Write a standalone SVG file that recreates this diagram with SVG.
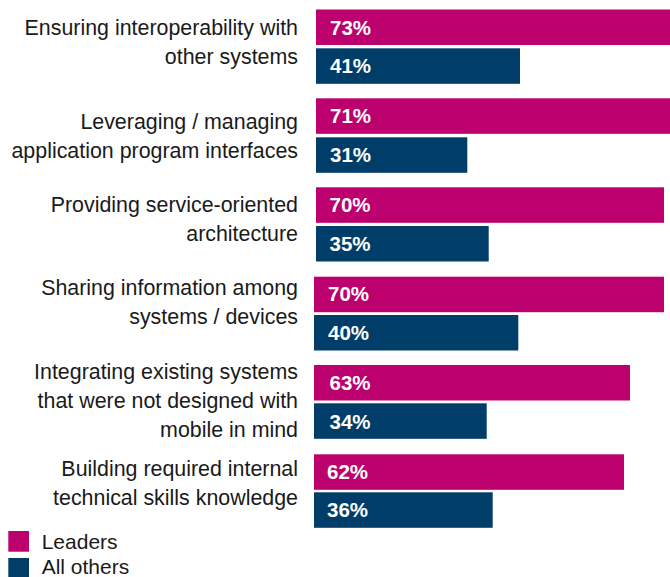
<svg xmlns="http://www.w3.org/2000/svg" width="670" height="577" viewBox="0 0 670 577">
<style>
.lbl{font-family:"Liberation Sans",Arial,sans-serif;font-size:21.4px;fill:#1a1a1a;text-anchor:end}
.val{font-family:"Liberation Sans",Arial,sans-serif;font-size:20.5px;font-weight:bold;fill:#ffffff}
.leg{font-family:"Liberation Sans",Arial,sans-serif;font-size:21px;fill:#1a1a1a}
.m{fill:#bc006d}
.b{fill:#003e69}
</style>
<rect width="670" height="577" fill="#ffffff"/>
<g id="row1">
<text class="lbl" x="298" y="34.5">Ensuring interoperability with</text>
<text class="lbl" x="298" y="63.5">other systems</text>
<rect class="m" x="316" y="9.5" width="360" height="35.5"/>
<text class="val" x="330" y="34.5">73%</text>
<rect class="b" x="316" y="48.3" width="204" height="35.5"/>
<text class="val" x="330" y="73.3">41%</text>
</g>
<g id="row2">
<text class="lbl" x="298" y="129.3">Leveraging / managing</text>
<text class="lbl" x="298" y="158.3">application program interfaces</text>
<rect class="m" x="316" y="98.3" width="360" height="35.5"/>
<text class="val" x="330" y="123.3">71%</text>
<rect class="b" x="316" y="137.3" width="151.3" height="35.5"/>
<text class="val" x="330" y="162">31%</text>
</g>
<g id="row3">
<text class="lbl" x="298" y="211.7">Providing service-oriented</text>
<text class="lbl" x="298" y="240.7">architecture</text>
<rect class="m" x="316" y="187.3" width="348" height="35.5"/>
<text class="val" x="329.5" y="212.3">70%</text>
<rect class="b" x="316" y="226" width="172.7" height="35.5"/>
<text class="val" x="329.5" y="250.8">35%</text>
</g>
<g id="row4">
<text class="lbl" x="298" y="295">Sharing information among</text>
<text class="lbl" x="298" y="324">systems / devices</text>
<rect class="m" x="314" y="276.7" width="350" height="35.5"/>
<text class="val" x="328" y="301.3">70%</text>
<rect class="b" x="314" y="315" width="204.3" height="35.5"/>
<text class="val" x="328" y="339.6">40%</text>
</g>
<g id="row5">
<text class="lbl" x="298" y="379.3">Integrating existing systems</text>
<text class="lbl" x="298" y="408.3">that were not designed with</text>
<text class="lbl" x="298" y="437">mobile in mind</text>
<rect class="m" x="314" y="365" width="316" height="35.5"/>
<text class="val" x="329.5" y="390.3">63%</text>
<rect class="b" x="314" y="403.3" width="172.7" height="35.5"/>
<text class="val" x="329.5" y="428.8">34%</text>
</g>
<g id="row6">
<text class="lbl" x="298" y="476">Building required internal</text>
<text class="lbl" x="298" y="505">technical skills knowledge</text>
<rect class="m" x="314" y="454.3" width="310" height="35.5"/>
<text class="val" x="327" y="478.8">62%</text>
<rect class="b" x="314" y="492.3" width="178.7" height="35.5"/>
<text class="val" x="327" y="517.3">36%</text>
</g>
<g id="legend">
<rect class="m" x="8.3" y="531" width="20.7" height="20.7"/>
<text class="leg" x="41.7" y="549">Leaders</text>
<rect class="b" x="8.3" y="558" width="20.7" height="20.7"/>
<text class="leg" x="41.7" y="573.5">All others</text>
</g>
<g id="connectors"/>
</svg>
